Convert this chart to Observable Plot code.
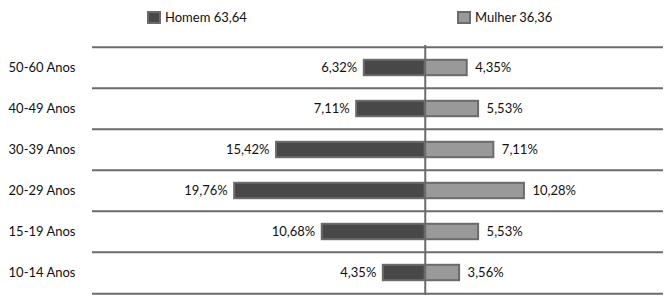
<!DOCTYPE html>
<html><head><meta charset="utf-8">
<script src="https://cdn.jsdelivr.net/npm/d3@7"></script>
<script src="https://cdn.jsdelivr.net/npm/@observablehq/plot@0.6"></script>
<style>
body{margin:0;background:#fff;font-family:Lato,"Open Sans",sans-serif;}
#legend{position:relative;width:672px;height:36px;font-size:13px;color:#111;}
.item{position:absolute;top:10px;display:flex;align-items:center;line-height:14px;}
.sw{width:14px;height:13px;border:2px solid #6b6b6b;margin-right:4px;box-sizing:border-box;}
</style></head><body>
<div id="legend"></div><div id="chart"></div>
<script>
const categories = ["50-60 Anos","40-49 Anos","30-39 Anos","20-29 Anos","15-19 Anos","10-14 Anos"];
const homem = [6.32, 7.11, 15.42, 19.76, 10.68, 4.35];
const mulher = [4.35, 5.53, 7.11, 10.28, 5.53, 3.56];
const series = ["Homem", "Mulher"];
const legendLabels = ["Homem 63,64", "Mulher 36,36"];
const colors = ["#484848", "#999999"];

const legendLeft = [147, 457];
const legend = document.getElementById("legend");
series.forEach((s, i) => {
  const item = document.createElement("div");
  item.className = "item";
  item.style.left = legendLeft[i] + "px";
  const sw = document.createElement("span");
  sw.className = "sw";
  sw.style.background = colors[i];
  const t = document.createElement("span");
  t.textContent = legendLabels[i];
  item.append(sw, t);
  legend.append(item);
});

const data = categories.flatMap((c, i) => [
  {cat: c, sex: "Homem", v: homem[i]},
  {cat: c, sex: "Mulher", v: mulher[i]}
]);
const fmt = v => v.toFixed(2).replace(".", ",") + "%";
const band = 250 / 6;

const chart = Plot.plot({
  width: 672, height: 270,
  marginTop: 9, marginBottom: 11, marginLeft: 92, marginRight: 9,
  x: {domain: [-34.5, 24.7], axis: null},
  y: {domain: categories, type: "band", padding: 0, axis: null, label: null},
  color: {domain: series, range: colors},
  style: {fontFamily: "Lato, 'Open Sans', sans-serif", fontSize: "13px", color: "#111", background: "#fff"},
  marks: [
    Plot.ruleY(categories, {y: d => d, dy: -band / 2, stroke: "#6b6b6b", strokeWidth: 2}),
    Plot.ruleY([categories[categories.length - 1]], {y: d => d, dy: band / 2, stroke: "#6b6b6b", strokeWidth: 2}),
    Plot.barX(data, {
      y: "cat", x1: 0, x2: d => d.sex === "Homem" ? -d.v : d.v,
      fill: "sex", stroke: "#6b6b6b", strokeWidth: 2,
      insetTop: 12.8, insetBottom: 12.8
    }),
    Plot.ruleX([0], {stroke: "#6b6b6b", strokeWidth: 2}),
    Plot.text(data.filter(d => d.sex === "Homem"), {
      y: "cat", x: d => -d.v, text: d => fmt(d.v), textAnchor: "end", dx: -7, fill: "#111", fontSize: 13
    }),
    Plot.text(data.filter(d => d.sex === "Mulher"), {
      y: "cat", x: d => d.v, text: d => fmt(d.v), textAnchor: "start", dx: 8, fill: "#111", fontSize: 13
    }),
    Plot.axisY({tickSize: 0, tickPadding: 17, fontSize: 13, fill: "#111", label: null})
  ]
});
document.getElementById("chart").append(chart);
</script>
</body></html>
